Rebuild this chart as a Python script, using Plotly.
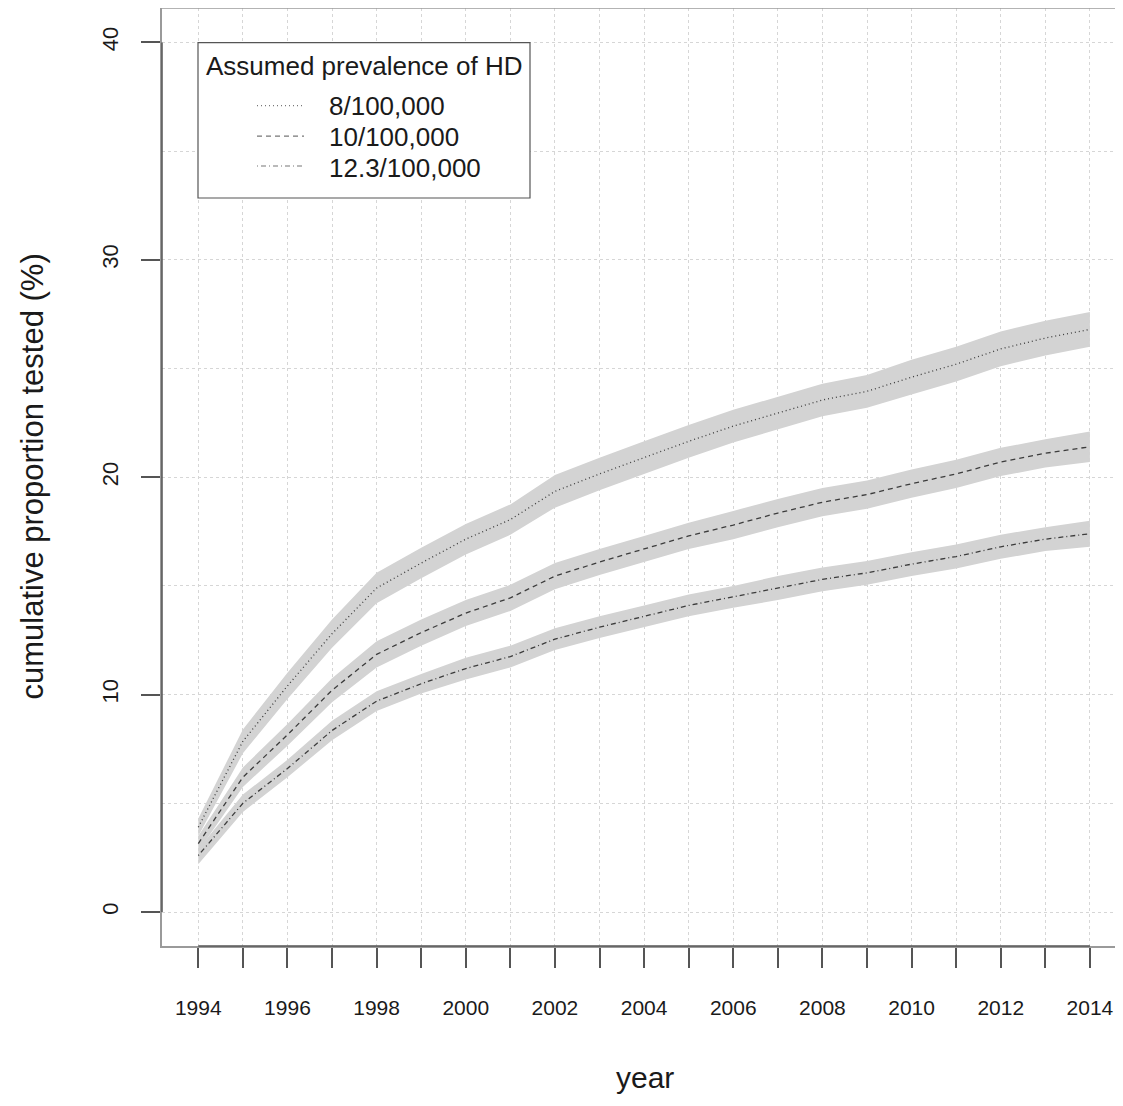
import plotly.graph_objects as go

years = list(range(1994, 2015))

# 8/100,000
p8_mid = [3.9, 7.85, 10.4, 12.8, 14.9, 16.05, 17.15, 18.05, 19.35, 20.15, 20.9,
          21.65, 22.35, 22.95, 23.55, 23.95, 24.6, 25.2, 25.9, 26.4, 26.8]
p8_upper = [4.3, 8.4, 11.0, 13.45, 15.6, 16.75, 17.85, 18.75, 20.1, 20.9, 21.65,
            22.4, 23.1, 23.7, 24.3, 24.7, 25.4, 26.0, 26.7, 27.2, 27.6]
p8_lower = [3.5, 7.3, 9.8, 12.15, 14.2, 15.35, 16.45, 17.35, 18.6, 19.4, 20.15,
            20.9, 21.6, 22.2, 22.8, 23.2, 23.8, 24.4, 25.1, 25.6, 26.0]

# 10/100,000
p10_mid = [3.15, 6.2, 8.15, 10.2, 11.85, 12.85, 13.75, 14.45, 15.45, 16.1, 16.7,
           17.3, 17.8, 18.35, 18.85, 19.2, 19.7, 20.15, 20.7, 21.1, 21.4]
p10_upper = [3.5, 6.65, 8.65, 10.75, 12.45, 13.45, 14.35, 15.05, 16.05, 16.7, 17.3,
             17.9, 18.45, 19.0, 19.5, 19.85, 20.35, 20.8, 21.35, 21.75, 22.1]
p10_lower = [2.8, 5.75, 7.65, 9.65, 11.25, 12.25, 13.15, 13.85, 14.85, 15.5, 16.1,
             16.7, 17.15, 17.7, 18.2, 18.55, 19.05, 19.5, 20.05, 20.45, 20.7]

# 12.3/100,000
p123_mid = [2.6, 5.0, 6.6, 8.35, 9.7, 10.5, 11.2, 11.75, 12.55, 13.1, 13.6,
            14.1, 14.5, 14.9, 15.3, 15.6, 16.0, 16.35, 16.8, 17.15, 17.4]
p123_upper = [2.9, 5.4, 7.0, 8.8, 10.15, 10.95, 11.7, 12.25, 13.05, 13.6, 14.1,
              14.6, 15.0, 15.45, 15.85, 16.15, 16.55, 16.9, 17.35, 17.7, 18.0]
p123_lower = [2.2, 4.6, 6.2, 7.9, 9.25, 10.05, 10.7, 11.25, 12.05, 12.6, 13.1,
              13.6, 14.0, 14.35, 14.75, 15.05, 15.45, 15.8, 16.25, 16.6, 16.8]

series_names = ["8/100,000", "10/100,000", "12.3/100,000"]
series_dash = ["1px,3px", "5px,4px", "1px,3px,5px,3px"]
series_mid = [p8_mid, p10_mid, p123_mid]
series_upper = [p8_upper, p10_upper, p123_upper]
series_lower = [p8_lower, p10_lower, p123_lower]

x_ticklabels = [str(y) if (y - 1994) % 2 == 0 else "" for y in years]
y_tickvals = [0, 10, 20, 30, 40]

FONT = "Liberation Sans, Arial, sans-serif"
BAND = "#d3d3d3"
LINE = "#3c3c3c"
TXT = "#1a1a1a"

fig = go.Figure()

for up, lo in zip(series_upper, series_lower):
    fig.add_trace(go.Scatter(
        x=years + years[::-1], y=up + lo[::-1],
        fill="toself", fillcolor=BAND, line=dict(width=0),
        mode="lines", hoverinfo="skip", showlegend=False))

for name, mid, dash in zip(series_names, series_mid, series_dash):
    fig.add_trace(go.Scatter(
        x=years, y=mid, mode="lines", name=name,
        line=dict(color=LINE, width=1.3, dash=dash), showlegend=False))

# page has an 8px body margin: figure pixel = page pixel - 8
OFF = 8
W, H = 1123 - 2 * OFF, 1106 - 2 * OFF
L = 162 - OFF
T = 0
B = H - (946 - OFF)
R = 0
pw, ph = W - L - R, H - T - B

def px(xp):  # page x -> paper
    return (xp - OFF - L) / pw

def py(yp):  # page y -> paper
    return (H - B - (yp - OFF)) / ph

shapes = []
annotations = []

# top border of box
shapes.append(dict(type="line", xref="paper", yref="paper", x0=0, x1=1, y0=1, y1=1,
                   line=dict(color="#9a9a9a", width=1.5)))
# darker axis segments
shapes.append(dict(type="line", xref="x", yref="paper", x0=1994, x1=2014, y0=0, y1=0,
                   line=dict(color="#555555", width=1.5)))
shapes.append(dict(type="line", xref="paper", yref="y", x0=0, x1=0, y0=0, y1=40,
                   line=dict(color="#555555", width=1.5)))

# legend box
shapes.append(dict(type="rect", xref="paper", yref="paper",
                   x0=px(198), x1=px(530), y0=py(198), y1=py(42.7),
                   line=dict(color="#555555", width=1.2), fillcolor="white", layer="above"))
annotations.append(dict(xref="paper", yref="paper", x=px(204), y=py(66),
                        text="Assumed prevalence of HD", showarrow=False,
                        xanchor="left", yanchor="middle",
                        font=dict(family=FONT, size=26, color=TXT)))
sample_y = [105.7, 136.2, 166.0]
text_y = [106, 137, 167.5]
for name, dash, sy, ty in zip(series_names, series_dash, sample_y, text_y):
    shapes.append(dict(type="line", xref="paper", yref="paper",
                       x0=px(257), x1=px(304), y0=py(sy), y1=py(sy),
                       line=dict(color="#777777", width=1.2, dash=dash), layer="above"))
    annotations.append(dict(xref="paper", yref="paper", x=px(327), y=py(ty),
                            text=name, showarrow=False, xanchor="left", yanchor="middle",
                            font=dict(family=FONT, size=26, color=TXT)))

# axis titles
annotations.append(dict(xref="paper", yref="paper", x=px(32), y=py(476.5),
                        text="cumulative proportion tested (%)", showarrow=False,
                        textangle=-90, xanchor="center", yanchor="middle",
                        font=dict(family=FONT, size=31, color=TXT)))
annotations.append(dict(xref="paper", yref="paper", x=px(645), y=py(1077),
                        text="year", showarrow=False, xanchor="center", yanchor="middle",
                        font=dict(family=FONT, size=30, color=TXT)))

# axis ranges from pixel geometry: 1994 at x=198.3, 44.58 px/yr; 0 at y=912, 21.74 px/unit
x_lo = 1994 - (198.3 - 162) / 44.58
x_hi = 1994 + (1115 - 198.3) / 44.58
y_hi = (912 - 8) / 21.74
y_lo = -(946 - 912) / 21.74

fig.update_layout(
    width=W, height=H,
    margin=dict(l=L, r=R, t=T, b=B, pad=0),
    paper_bgcolor="white", plot_bgcolor="white",
    font=dict(family=FONT, size=21, color=TXT),
    shapes=shapes, annotations=annotations,
    showlegend=False,
)

fig.update_xaxes(
    range=[x_lo, x_hi],
    tickmode="array", tickvals=years, ticktext=x_ticklabels,
    ticks="outside", ticklen=20, tickwidth=1.5, tickcolor="#555555",
    ticklabelstandoff=22,
    showgrid=True, gridcolor="#d6d6d6", griddash="dot", gridwidth=1,
    showline=True, linecolor="#9a9a9a", linewidth=1.5,
    zeroline=False, tickfont=dict(family=FONT, size=21, color=TXT),
)
fig.update_yaxes(
    range=[y_lo, y_hi],
    tickmode="array", tickvals=y_tickvals, ticktext=[str(v) for v in y_tickvals],
    ticks="outside", ticklen=19, tickwidth=1.5, tickcolor="#555555",
    tickangle=-90, ticklabelstandoff=14,
    showgrid=True, gridcolor="#d6d6d6", griddash="dot", gridwidth=1,
    minor=dict(tickmode="array", tickvals=[0, 5, 10, 15, 20, 25, 30, 35, 40],
               showgrid=True, gridcolor="#d6d6d6", griddash="dot", gridwidth=1, ticks=""),
    showline=True, linecolor="#9a9a9a", linewidth=1.5,
    zeroline=False, tickfont=dict(family=FONT, size=22, color=TXT),
)

fig.write_html("out.html")
